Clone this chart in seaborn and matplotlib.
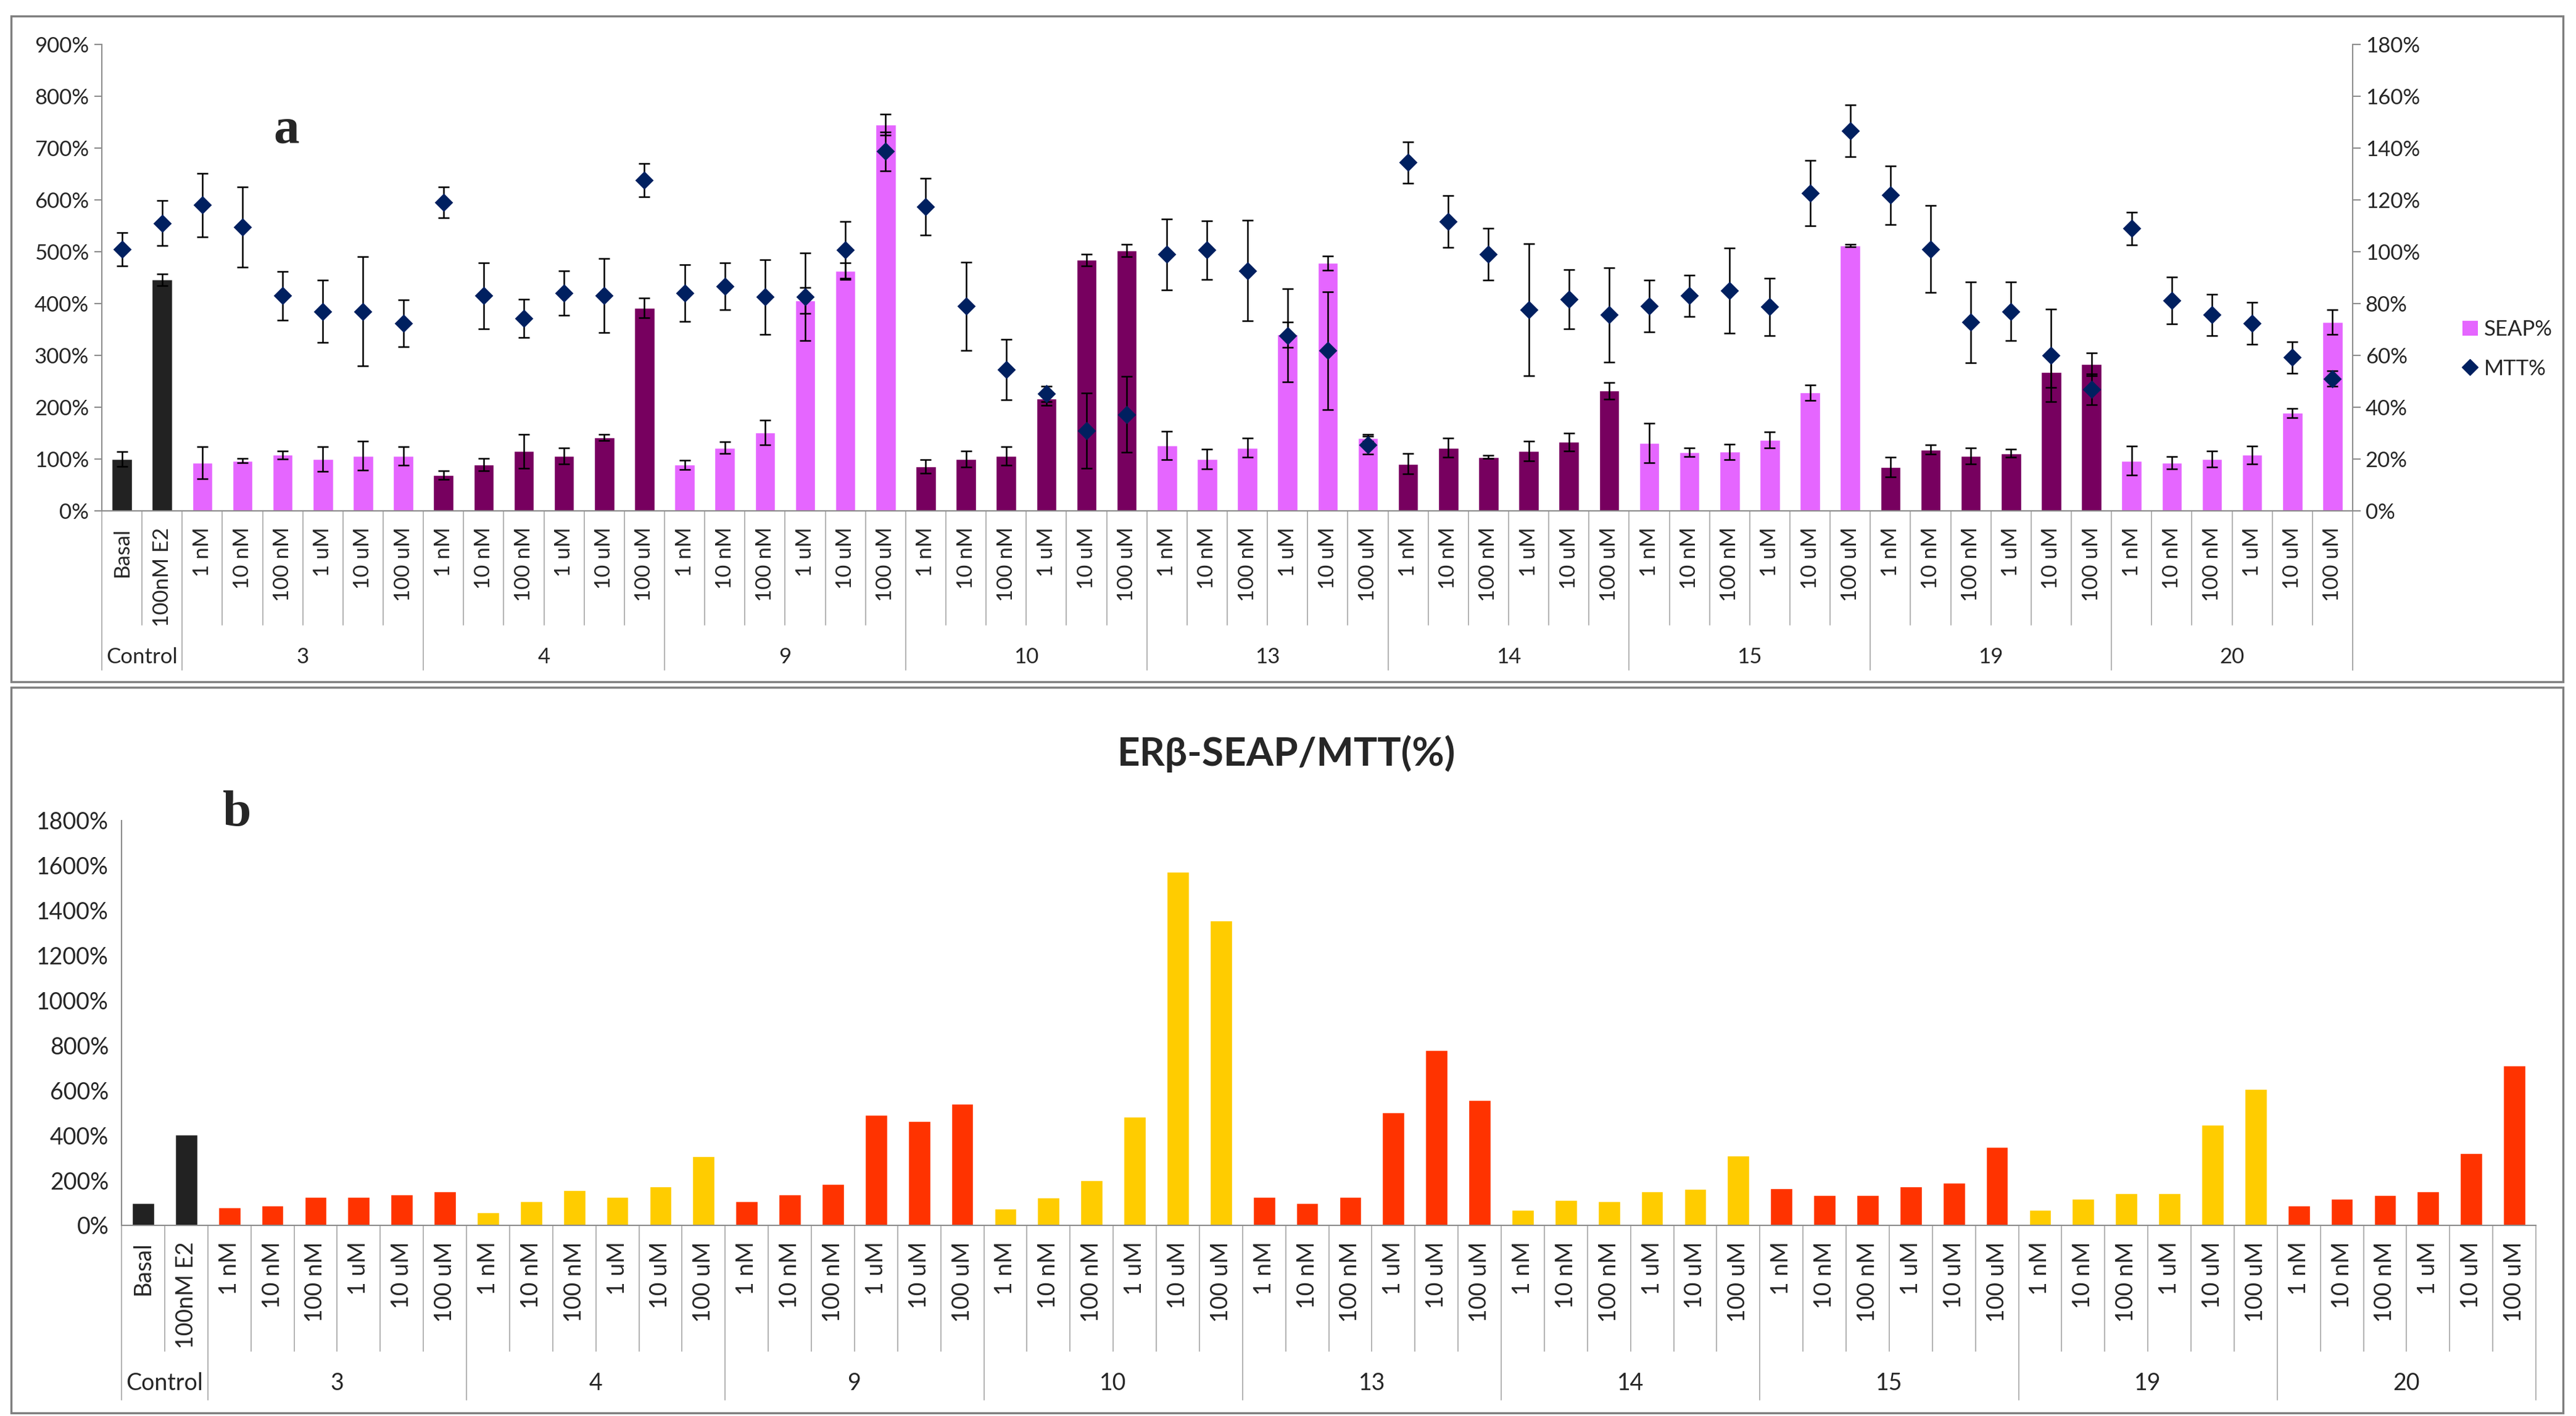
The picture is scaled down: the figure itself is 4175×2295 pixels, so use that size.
import numpy as np
import pandas as pd
import matplotlib.pyplot as plt
import matplotlib.transforms as mtransforms
from matplotlib.patches import Rectangle, Patch
from matplotlib.lines import Line2D
from matplotlib.ticker import FuncFormatter, MultipleLocator
import seaborn as sns

sns.set_style("white")
plt.rcParams['font.family'] = ['Lato', 'Open Sans', 'DejaVu Sans']

# 数据
groups = ["Control", "3", "4", "9", "10", "13", "14", "15", "19", "20"]
doses = ["1 nM", "10 nM", "100 nM", "1 uM", "10 uM", "100 uM"]
conc_labels = ["Basal", "100nM E2"] + doses * 9

seap = [100, 446, 93, 97, 108, 100, 106, 106, 69, 89, 115, 106, 142, 392,
        89, 122, 151, 406, 463, 745, 86, 100, 106, 217, 484, 502,
        126, 100, 122, 340, 478, 141, 91, 122, 104, 115, 133, 232,
        131, 113, 114, 137, 228, 512, 85, 118, 106, 111, 268, 283,
        97, 93, 100, 108, 189, 364]
seap_err = [14, 11, 31, 4, 8, 24, 28, 18, 8, 12, 33, 15, 6, 19,
            9, 11, 24, 25, 16, 20, 13, 15, 18, 13, 11, 12,
            27, 19, 18, 24, 14, 7, 20, 18, 3, 19, 17, 16,
            38, 8, 15, 15, 15, 2, 19, 9, 15, 8, 30, 22,
            28, 12, 16, 17, 9, 24]
mtt = [101, 111, 118, 109.5, 83, 77, 77, 72.4, 119, 83, 74.3, 84, 83, 127.6,
       84, 86.6, 82.6, 82.6, 100.7, 138.7, 117.4, 79, 54.5, 45.2, 31, 37.2,
       99, 100.7, 92.7, 67.7, 61.8, 25.4, 134.5, 111.7, 99, 77.7, 81.7, 75.6,
       79, 83, 85, 78.7, 122.7, 146.7, 121.8, 101, 72.8, 77, 60, 46.9,
       109, 81.2, 75.6, 72.4, 59.2, 51]
mtt_err = [6.4, 8.7, 12.3, 15.5, 9.5, 12, 21, 9, 6, 12.8, 7.3, 8.6, 14.3, 6.4,
           11, 9, 14.4, 17, 11, 7.6, 11, 17, 11.6, 3, 14.5, 14.6,
           13.7, 11.3, 19.4, 18, 22.7, 3.4, 8, 10, 10, 25.5, 11.4, 18.2,
           10, 8, 16.4, 11, 12.6, 10, 11.3, 16.8, 15.6, 11.3, 17.8, 6,
           6.3, 9.1, 8, 8, 6, 3]
ratio = [100, 403, 79, 89, 127, 127, 138, 151, 57, 106, 157, 127, 172, 306,
         106, 138, 185, 492, 465, 541, 74, 123, 200, 482, 1571, 1356,
         127, 100, 127, 503, 779, 558, 68, 112, 106, 151, 161, 310,
         166, 134, 134, 172, 189, 348, 68, 117, 144, 144, 448, 607,
         89, 117, 134, 151, 321, 711]
# 每组类别：0 对照, 1 第一类, 2 第二类
group_kind = [0, 1, 2, 1, 2, 1, 2, 1, 2, 1]

group_sizes = [2] + [6] * 9
kind = []
group_of = []
for g, n in enumerate(group_sizes):
    kind += [group_kind[g]] * n
    group_of += [groups[g]] * n

n = len(seap)
df = pd.DataFrame({'pos': np.arange(n), 'seap': seap, 'seap_err': seap_err,
                   'mtt': mtt, 'mtt_err': mtt_err, 'ratio': ratio,
                   'kind': kind, 'group': group_of})

col_a = {0: '#222222', 1: '#E566FF', 2: '#77005F'}
col_b = {0: '#222222', 1: '#FF3300', 2: '#FFCC00'}
navy = '#002060'
gray = '#8C8C8C'

W, H = 4175, 2295
fig = plt.figure(figsize=(W / 100, H / 100), dpi=100)


def fig_rect(x0, y0, x1, y1):
    return [x0 / W, 1 - y1 / H, (x1 - x0) / W, (y1 - y0) / H]


# 面板边框
for (x0, y0, x1, y1) in [(18, 26, 4154, 1105), (18, 1114, 4154, 2290)]:
    fig.patches.append(Rectangle((x0 / W, 1 - y1 / H), (x1 - x0) / W, (y1 - y0) / H,
                                 transform=fig.transFigure, fill=False,
                                 edgecolor='#7F7F7F', lw=2.5))


def category_axis(ax, fs, sep_y, grp_y, grp_lab_y):
    ax.set_xlim(-0.5, n - 0.5)
    ax.set_xticks(np.arange(n))
    ax.set_xticklabels(conc_labels, rotation=90, fontsize=fs)
    ax.tick_params(axis='x', length=0, pad=19)
    trans = mtransforms.blended_transform_factory(ax.transData, ax.transAxes)
    bounds = np.cumsum([0] + group_sizes) - 0.5
    for k in range(1, n):
        x = k - 0.5
        if x in bounds:
            continue
        ax.plot([x, x], [0, sep_y], transform=trans, color='#A6A6A6', lw=1.2, clip_on=False)
    for x in bounds:
        ax.plot([x, x], [0, grp_y], transform=trans, color='#A6A6A6', lw=1.2, clip_on=False)
    for g in range(len(groups)):
        xc = (bounds[g] + bounds[g + 1]) / 2
        ax.text(xc, grp_lab_y, groups[g], transform=trans, ha='center', va='center', fontsize=fs)


def style_axes(ax):
    sns.despine(ax=ax, top=True, right=True)
    for s in ['left', 'bottom']:
        ax.spines[s].set_color(gray)
        ax.spines[s].set_linewidth(1.5)
    ax.tick_params(axis='y', direction='out', length=9, width=1.5, color=gray, pad=6)


pct = FuncFormatter(lambda v, p: f"{v:.0f}%")

# 面板 a
ax = fig.add_axes(fig_rect(165, 72, 3813, 828))
sns.barplot(data=df, x='pos', y='seap', hue='pos', palette=[col_a[k] for k in kind],
            width=0.5, saturation=1, legend=False, errorbar=None, ax=ax)
ax.errorbar(df['pos'], df['seap'], yerr=df['seap_err'], fmt='none', ecolor='black',
            elinewidth=1.8, capsize=6.5, capthick=1.8)
ax.set_ylim(0, 900)
ax.yaxis.set_major_locator(MultipleLocator(100))
ax.yaxis.set_major_formatter(pct)
ax.tick_params(axis='y', labelsize=25)
ax.set_xlabel('')
ax.set_ylabel('')
style_axes(ax)
category_axis(ax, 25, -0.2447, -0.3413, -0.3135)

ax2 = ax.twinx()
ax2.errorbar(df['pos'], df['mtt'], yerr=df['mtt_err'], fmt='none', ecolor='black',
             elinewidth=1.8, capsize=6.5, capthick=1.8)
sns.scatterplot(data=df, x='pos', y='mtt', marker='D', s=230, color=navy,
                edgecolor=navy, linewidth=0, ax=ax2, zorder=3)
ax2.set_ylim(0, 180)
ax2.yaxis.set_major_locator(MultipleLocator(20))
ax2.yaxis.set_major_formatter(pct)
ax2.set_ylabel('')
ax2.set_xlabel('')
for s in ['top', 'left', 'bottom']:
    ax2.spines[s].set_visible(False)
ax2.spines['right'].set_color(gray)
ax2.spines['right'].set_linewidth(1.5)
ax2.tick_params(axis='y', direction='out', length=9, width=1.5, color=gray, labelsize=25, pad=6)
trans2 = mtransforms.blended_transform_factory(ax2.transData, ax2.transAxes)
ax2.plot([n - 0.5, n - 0.5], [0, -0.3413], transform=trans2, color='#A6A6A6', lw=1.2, clip_on=False)

handles = [Patch(facecolor=col_a[1], edgecolor='none'),
           Line2D([], [], marker='D', color=navy, linestyle='none', markersize=13)]
fig.legend(handles, ['SEAP%', 'MTT%'], loc='center left',
           bbox_to_anchor=(3960 / W, 1 - 566 / H), frameon=False, fontsize=25,
           handlelength=0.7, handleheight=0.7, handletextpad=0.3, labelspacing=0.9)

fig.text(464 / W, 1 - 212 / H, 'a', fontsize=60, fontweight='bold',
         family='Liberation Serif', ha='center', va='center')

# 面板 b
bx = fig.add_axes(fig_rect(197, 1330, 4110, 1986))
sns.barplot(data=df, x='pos', y='ratio', hue='pos', palette=[col_b[k] for k in kind],
            width=0.51, saturation=1, legend=False, errorbar=None, ax=bx)
bx.set_ylim(0, 1800)
bx.yaxis.set_major_locator(MultipleLocator(200))
bx.yaxis.set_major_formatter(pct)
bx.tick_params(axis='y', labelsize=27)
bx.set_xlabel('')
bx.set_ylabel('')
style_axes(bx)
category_axis(bx, 27, -0.311, -0.431, -0.390)

fig.text(2085 / W, 1 - 1222 / H, 'ERβ-SEAP/MTT(%)', fontsize=46, fontweight='bold',
         ha='center', va='center')
fig.text(384 / W, 1 - 1318 / H, 'b', fontsize=60, fontweight='bold',
         family='Liberation Serif', ha='center', va='center')

fig.savefig('out.png', dpi=100, facecolor='white')
